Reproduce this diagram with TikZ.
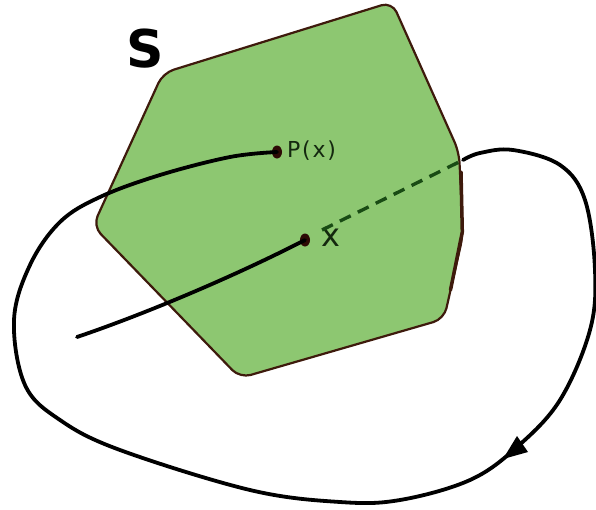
\documentclass[tikz,border=0pt]{standalone}
\usepackage{fontspec}
\setmainfont{DejaVu Sans}
\usetikzlibrary{shapes.geometric}
\definecolor{setgreen}{RGB}{141,199,113}
\definecolor{setedge}{RGB}{62,26,12}
\definecolor{dotcol}{RGB}{45,10,5}
\definecolor{labcol}{RGB}{20,40,15}
\definecolor{dashcol}{RGB}{25,75,20}
\begin{document}
\begin{tikzpicture}[x=1pt,y=-1pt,
  curve/.style={line width=3.8pt, black, line cap=round},
  dashline/.style={line width=3.4pt, dashcol, dash pattern=on 12pt off 8pt},
  dotnode/.style={ellipse, fill=dotcol, minimum width=10pt, minimum height=13pt, inner sep=0pt},
  setpoly/.style={draw=setedge, line width=2.2pt, fill=setgreen, rounded corners=11pt},
  lab/.style={text=labcol, inner sep=0pt}
]
\useasboundingbox (0,0) rectangle (596,509);
% the set S
\draw[setpoly] (163,73) -- (392,2) -- (459,152) -- (463,235) -- (444,319) -- (240,378) -- (93,226) -- cycle;
\draw[setedge, line width=3.5pt, line cap=round] (461,172) -- (462.3,232) -- (450.5,290);
% points
\node[dotnode] (px) at (277,152) {};
\node[dotnode] (xd) at (305,240) {};
\coordinate (edge) at (463,160);
\coordinate (tail) at (77,337);
% labels
\node[lab, anchor=west, font=\addfontfeature{LetterSpace=8}\fontsize{22}{22}\selectfont] (plab) at (287,151) {P(x)};
\node[lab, anchor=west, font=\fontsize{32}{32}\selectfont] (xlab) at (321,238) {x};
\node[inner sep=0pt, font=\bfseries\fontsize{52}{52}\selectfont] (slab) at (145,49) {S};
% dashed segment from x to the boundary
\draw[dashline] (322,230) -- (edge);
% segment from the tail to x
\draw[curve] (xd.center) .. controls (235,276) and (145,314) .. (tail);
% loop from the boundary to P(x)
\draw[curve]
  plot[smooth, tension=0.6] coordinates {
   (edge) (480,153) (513,150) (560,165) (585,200) (595,270) (590,330) (560,400) (517,447)
   (470,480) (400,500) (340,502) (250,490) (120,450) (60,420) (25,385) (14,320) (30,265)
   (60,222) (100,197) (160,175) (230,157) (277,152)};
% arrowhead on the loop
\coordinate (tip) at (503,459);
\coordinate (ba) at (528,452);
\coordinate (bb) at (517,436);
\fill[black] (tip) -- (ba) -- (bb) -- cycle;
\end{tikzpicture}
\end{document}
